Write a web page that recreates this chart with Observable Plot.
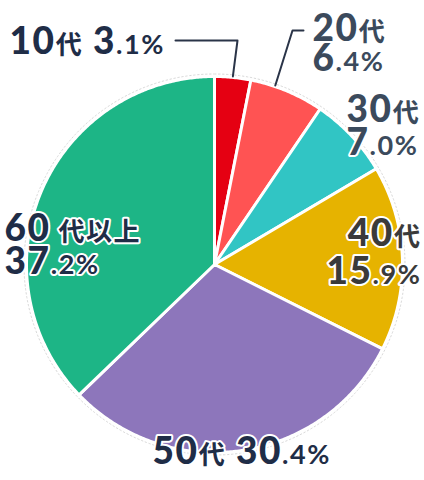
<!DOCTYPE html>
<html><head><meta charset="utf-8">
<script src="https://cdn.jsdelivr.net/npm/d3@7"></script>
<script src="https://cdn.jsdelivr.net/npm/@observablehq/plot@0.6"></script>
<style>
html,body{margin:0;padding:0;background:#fff;}
#chart svg{display:block;}
</style>
</head><body><div id="chart"></div>
<script>
// ---- data ----
const categories = ["10代", "20代", "30代", "40代", "50代", "60代以上"];
const shares = [3.1, 6.4, 7.0, 15.9, 30.4, 37.2];
const shareLabels = ["3.1%", "6.4%", "7.0%", "15.9%", "30.4%", "37.2%"];
const colors = ["#e50012", "#ff5353", "#31c5c4", "#e6b300", "#8d76bb", "#1db586"];

// ---- layout ----
const W = 424, H = 480;
const cx = 214, cy = 264, R = 188;
const navy = "#1f2d47", slate = "#3b4a5c", grey = "#3a3a3a";
const textColors = [navy, slate, slate, grey, navy, navy];
// label lines: k = category index, kind = what is shown, position of baseline
const labelLines = [
  {k: 0, kind: "both", x: 9,   y: 53,  anchor: "start"},
  {k: 1, kind: "cat",  x: 312, y: 40,  anchor: "start"},
  {k: 1, kind: "pct",  x: 312, y: 70,  anchor: "start"},
  {k: 2, kind: "cat",  x: 346, y: 121, anchor: "start"},
  {k: 2, kind: "pct",  x: 346, y: 154, anchor: "start"},
  {k: 3, kind: "cat",  x: 421, y: 245, anchor: "end"},
  {k: 3, kind: "pct",  x: 421, y: 283, anchor: "end"},
  {k: 4, kind: "both", x: 152, y: 463, anchor: "start"},
  {k: 5, kind: "cat",  x: 4,   y: 240, anchor: "start"},
  {k: 5, kind: "pct",  x: 4,   y: 273, anchor: "start"}
];
// leader lines: slice index, position within slice (0..1), then elbow + end points
const leaders = [
  {k: 0, f: 0.5,  via: [237, 40], end: [175, 40]},
  {k: 1, f: 0.33, via: [292, 30], end: [303, 30]}
];

// ---- geometry from data ----
const arcs = d3.pie().sort(null).value(d => d)(shares);
const pt = (a, r) => [cx + r * Math.sin(a), cy - r * Math.cos(a)];
const slices = arcs.map((p, i) => {
  const pts = [[cx, cy]];
  const n = Math.max(4, Math.ceil((p.endAngle - p.startAngle) / (Math.PI / 360)));
  for (let j = 0; j <= n; j++) pts.push(pt(p.startAngle + (p.endAngle - p.startAngle) * j / n, R));
  return pts.map(([x, y]) => ({x, y}));
});
const ring = d3.range(0, 721).map(j => { const [x, y] = pt(j / 720 * 2 * Math.PI, R + 2.5); return {x, y}; });
const leaderPaths = leaders.map(l => {
  const p = arcs[l.k];
  const a = p.startAngle + (p.endAngle - p.startAngle) * l.f;
  return [pt(a, R + 1), l.via, l.end].map(([x, y]) => ({x, y}));
});
const displayCat = c => c.replace(/^(\d+)(代以上)$/, "$1 $2");
const lineText = d => d.kind === "cat" ? displayCat(categories[d.k])
  : d.kind === "pct" ? shareLabels[d.k]
  : `${displayCat(categories[d.k])} ${shareLabels[d.k]}`;

const FONT = "Lato, 'Noto Sans CJK JP', 'Noto Sans', sans-serif";

const marks = [
  Plot.line(ring, {x: "x", y: "y", stroke: "#d9d9d9", strokeWidth: 1, strokeDasharray: "1.5,2.5", curve: "linear-closed"}),
  ...slices.map((s, i) => Plot.line(s, {x: "x", y: "y", fill: colors[i], stroke: "white", strokeWidth: 3,
    strokeLinejoin: "round", curve: "linear-closed"})),
  ...leaderPaths.map(p => Plot.line(p, {x: "x", y: "y", stroke: "#2a3448", strokeWidth: 2})),
  ...labelLines.map(d => Plot.text([d], {x: "x", y: "y", text: lineText, textAnchor: d.anchor,
    lineAnchor: "bottom", fill: textColors[d.k], stroke: "white", strokeWidth: 4, strokeLinejoin: "round",
    fontFamily: FONT, fontSize: 37, fontWeight: 900}))
];

const svg = Plot.plot({
  width: W, height: H, margin: 0,
  x: {domain: [0, W], range: [0, W], axis: null},
  y: {domain: [0, H], range: [0, H], axis: null},
  style: {background: "white", overflow: "visible"},
  marks
});

// mixed-size label styling
const NS = "http://www.w3.org/2000/svg";
svg.querySelectorAll('g[aria-label="text"] text').forEach(t => {
  const s = t.textContent;
  const toks = s.match(/\d+|\.\d%|%|\s+|[^\d.\s%]+/g) || [];
  while (t.firstChild) t.removeChild(t.firstChild);
  t.setAttribute("letter-spacing", "1.6");
  toks.forEach((tok, j) => {
    const ts = document.createElementNS(NS, "tspan");
    ts.textContent = tok;
    if (/^\d+$/.test(tok)) { ts.setAttribute("font-size", 37); ts.setAttribute("font-weight", 900); }
    else if (/^\s+$/.test(tok)) { ts.setAttribute("font-size", /^代以上/.test(toks[j + 1] || "") ? 26 : 34); }
    else if (/^[.%]/.test(tok)) { ts.setAttribute("font-size", 27); ts.setAttribute("font-weight", 700); }
    else { ts.setAttribute("font-size", 26); ts.setAttribute("font-weight", 700);
           ts.setAttribute("font-family", "'Noto Sans CJK JP', sans-serif"); }
    t.appendChild(ts);
  });
});

document.getElementById("chart").appendChild(svg);
</script>
</body></html>
